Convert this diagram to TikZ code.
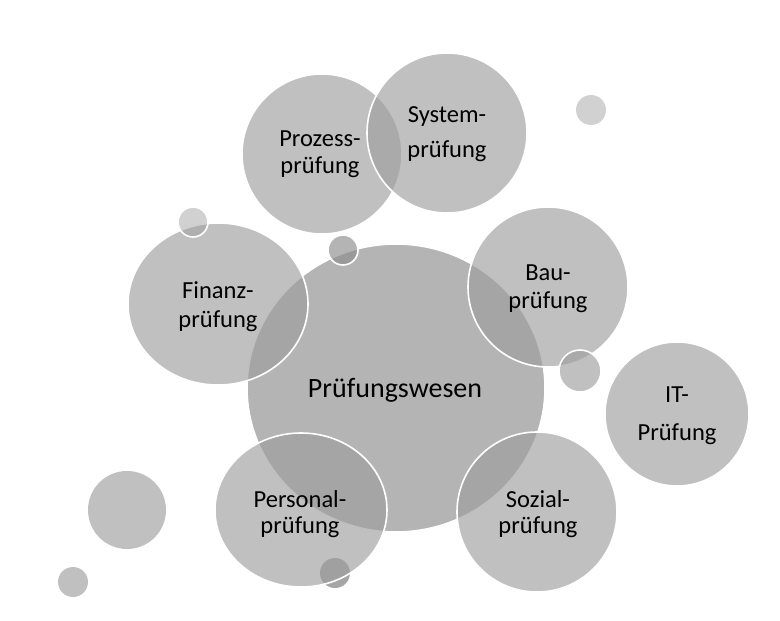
\documentclass[tikz,border=0pt]{standalone}
\usepackage{fontspec}
\setmainfont{Carlito}
\definecolor{bubblegray}{gray}{0.62}
\definecolor{hubgray}{gray}{0.55}
\definecolor{dotgray}{gray}{0.65}

\begin{document}
\begin{tikzpicture}[x=1pt,y=-1pt,
    bubble/.style={fill=bubblegray,fill opacity=0.65,draw=white,line width=1.6pt},
    hub/.style={fill=hubgray,fill opacity=0.65,draw=white,line width=1.6pt},
    faint/.style={fill=bubblegray,fill opacity=0.48,draw=white,line width=1.6pt},
    lbl/.style={anchor=base,align=center,text=black,font=\fontsize{24.5}{#1}\selectfont}]
\useasboundingbox (0,0) rectangle (780,621);
% loose dots
\fill[bubblegray,fill opacity=0.65] (127,510) circle[radius=39pt] (73,582) circle[radius=15pt];
\fill[bubblegray,fill opacity=0.48] (591,110) circle[radius=15pt];
% upper pair
\filldraw[bubble] (322,154) circle[radius=80pt];
\filldraw[bubble] (447,133) circle[radius=80pt];
% centre
\filldraw[hub] (396,388) circle[x radius=149pt,y radius=144pt];
\fill[dotgray] (335,573) circle[radius=15pt];
% ring
\filldraw[bubble] (218,304) circle[x radius=90pt,y radius=81pt];
\filldraw[bubble] (548,287) circle[radius=80pt];
\filldraw[bubble] (537,512) circle[radius=80pt];
\filldraw[bubble] (301,510) circle[x radius=86pt,y radius=77pt];
\filldraw[bubble] (677,414) circle[radius=72pt];
% small dots on top
\filldraw[hub] (343,250) circle[radius=15pt];
\filldraw[bubble] (580,371) circle[radius=21pt];
\filldraw[faint] (193,222) circle[radius=15pt];
% labels (anchor at baseline of the last line)
\node[lbl=27,font=\fontsize{28}{30}\selectfont] (wesen) at (395,397) {Prüfungswesen};
\node[lbl=27] (prozess) at (320,173) {Prozess-\\prüfung};
\node[lbl=35] (system) at (447,157) {System-\\prüfung};
\node[lbl=28] (bau) at (548,308) {Bau-\\prüfung};
\node[lbl=38] (it) at (677,440) {IT-\\Prüfung};
\node[lbl=26] (sozial) at (538,533) {Sozial-\\prüfung};
\node[lbl=26] (personal) at (300,533) {Personal-\\prüfung};
\node[lbl=29] (finanz) at (218,327) {Finanz-\\prüfung};
\end{tikzpicture}
\end{document}
